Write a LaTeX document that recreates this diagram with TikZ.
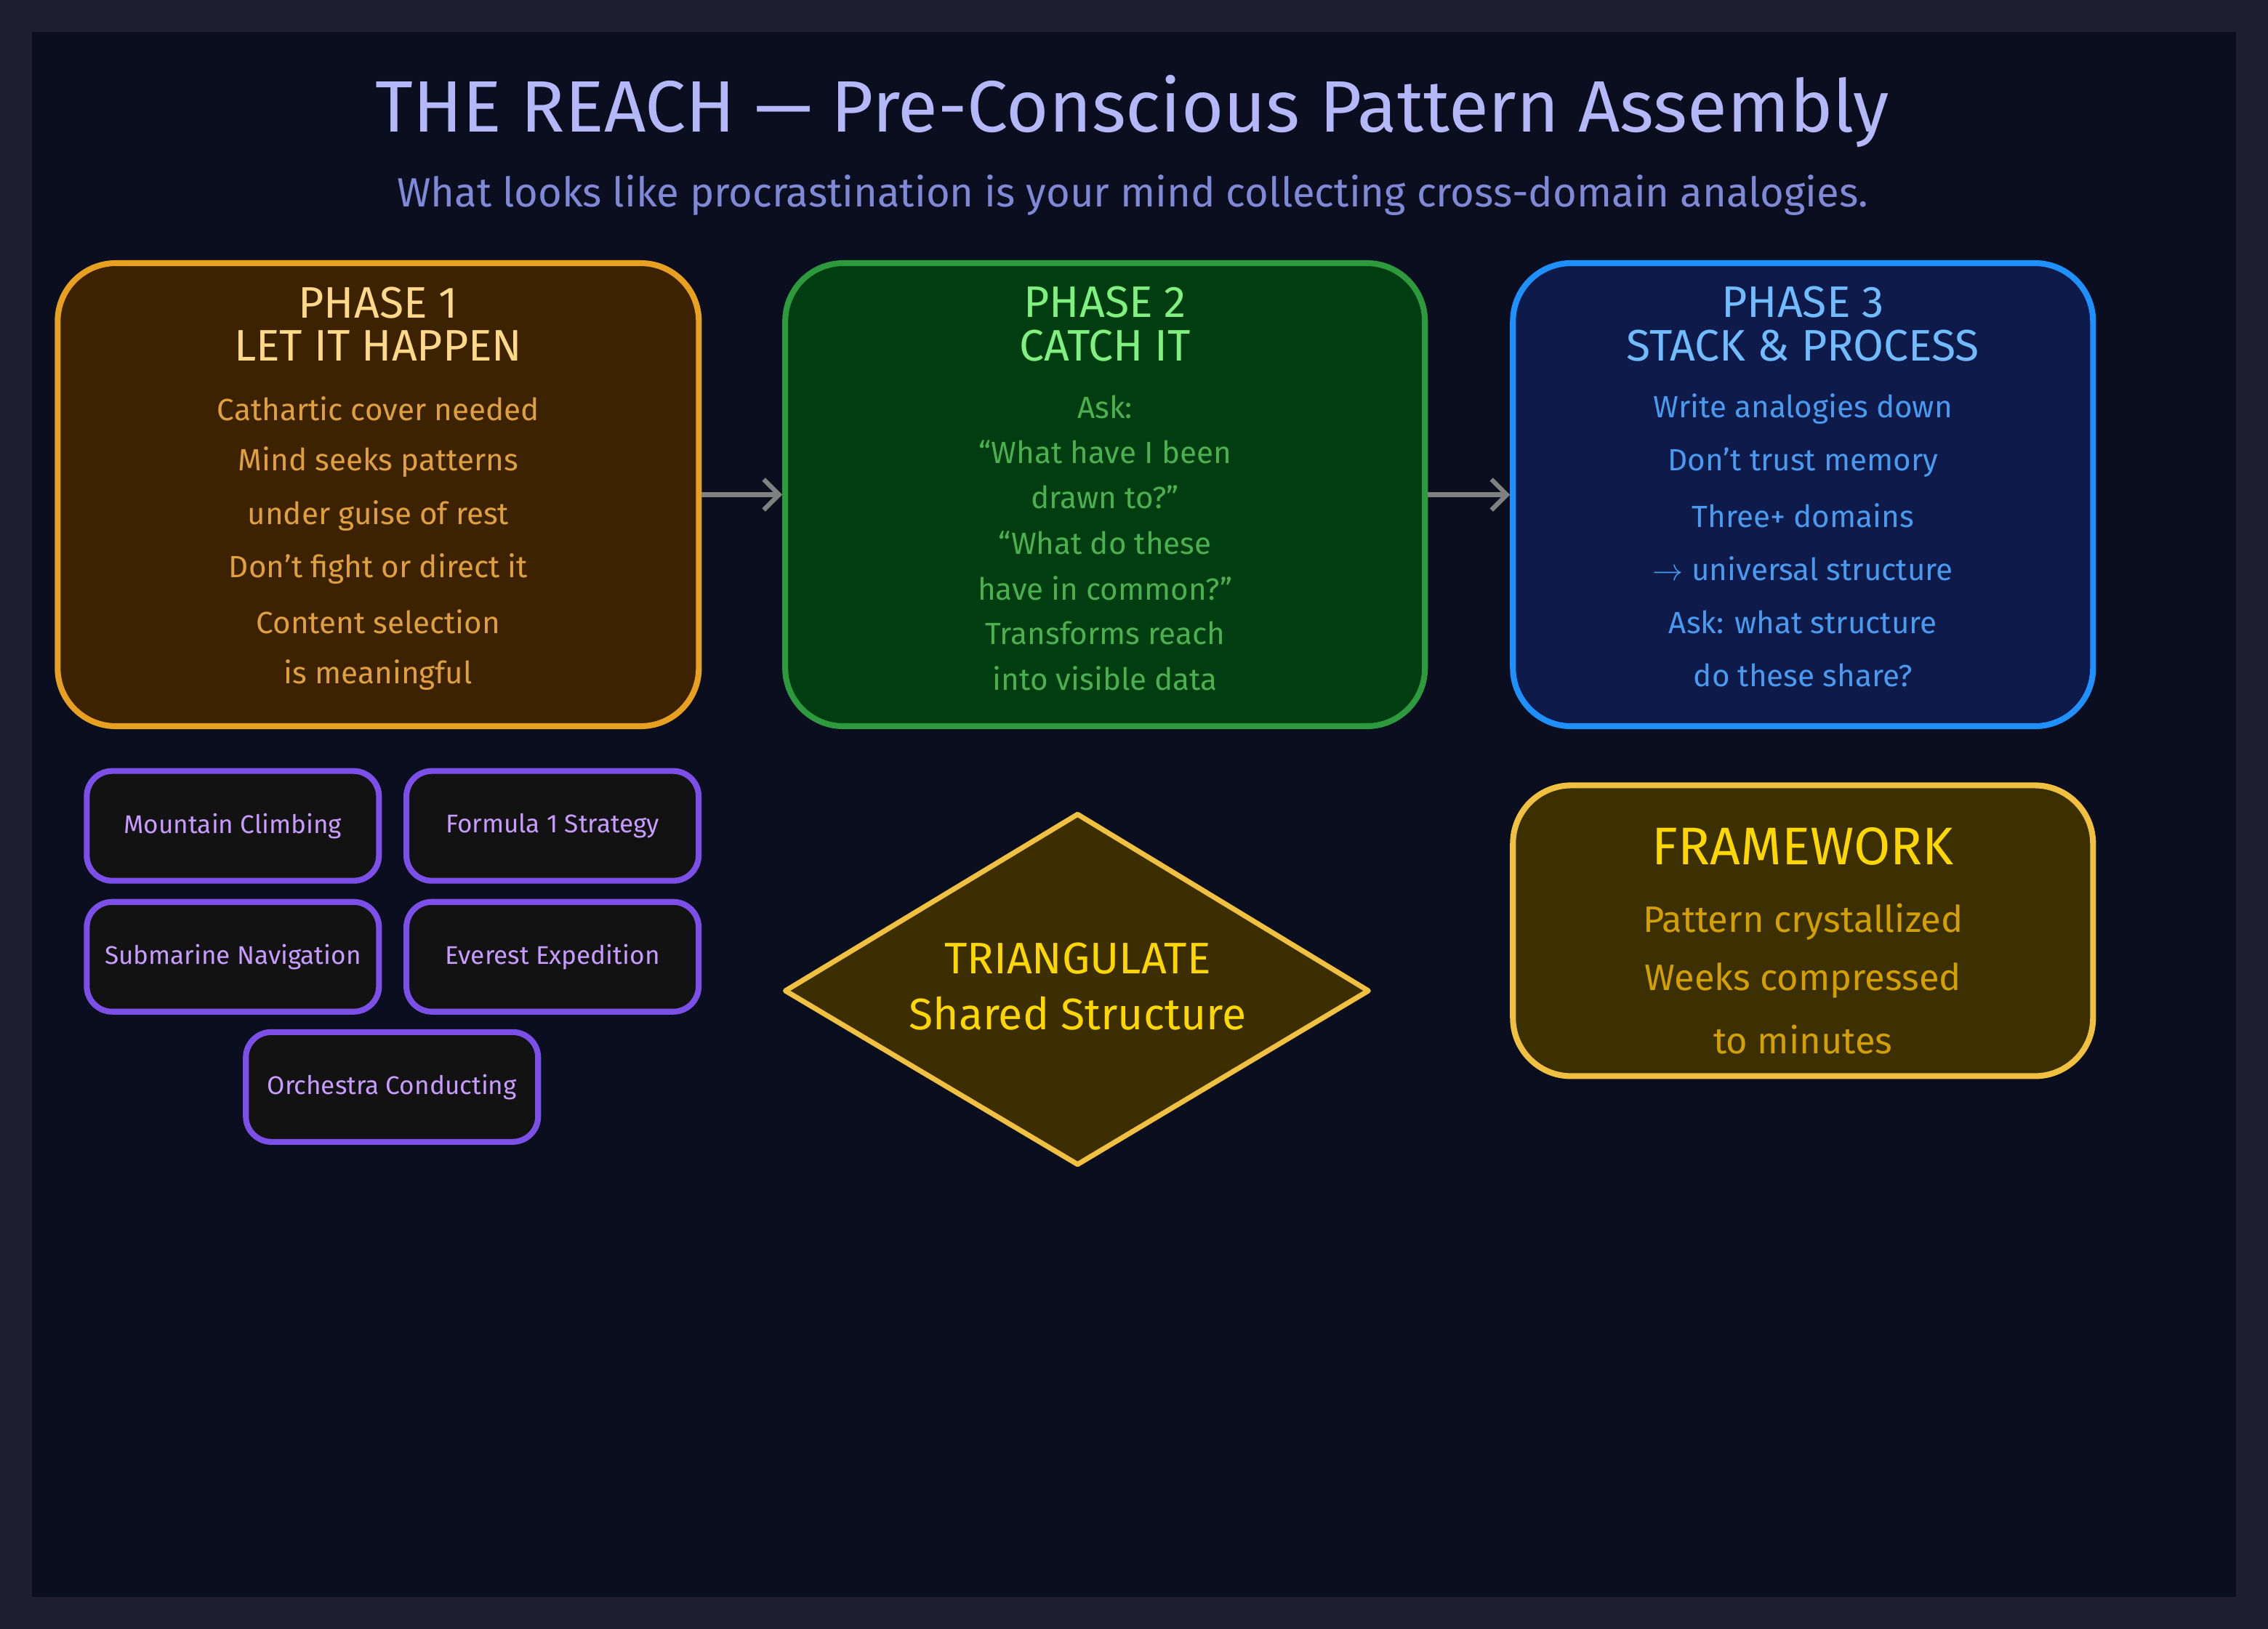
\documentclass[tikz,border=0pt]{standalone}
\usepackage{fontspec}
\setmainfont{Fira Sans}
\usetikzlibrary{arrows.meta}
\definecolor{outerbg}{HTML}{1E1E2E}
\definecolor{innerbg}{HTML}{0A0E1F}
\definecolor{titlecol}{HTML}{B4B8F8}
\definecolor{subcol}{HTML}{8088D8}
\definecolor{oneline}{HTML}{E8A020}
\definecolor{onefill}{HTML}{3D2200}
\definecolor{onehead}{HTML}{FFD98A}
\definecolor{onetext}{HTML}{E0A040}
\definecolor{twoline}{HTML}{2E9A3E}
\definecolor{twofill}{HTML}{003D10}
\definecolor{twohead}{HTML}{80F080}
\definecolor{twotext}{HTML}{4CB050}
\definecolor{threeline}{HTML}{1E90FF}
\definecolor{threefill}{HTML}{0D1A4A}
\definecolor{threehead}{HTML}{70BCFF}
\definecolor{threetext}{HTML}{4A9AF0}
\definecolor{purpline}{HTML}{7B4FE8}
\definecolor{purptext}{HTML}{C89CFF}
\definecolor{purpfill}{HTML}{121212}
\definecolor{goldline}{HTML}{F0C040}
\definecolor{goldfill}{HTML}{3D3000}
\definecolor{diafill}{HTML}{3D2E00}
\definecolor{goldhead}{HTML}{FFD700}
\definecolor{goldtext}{HTML}{D4A000}
\tikzset{
  phase/.style={draw, line width=2.3pt, rounded corners=0.8cm, inner sep=0pt},
  analogy/.style={draw=purpline, fill=purpfill, line width=2.3pt, rounded corners=0.35cm,
    minimum width=4.02cm, minimum height=1.51cm, text=purptext, font=\normalsize},
  body/.style={font=\large},
  head/.style={font=\LARGE, align=center}
}
\begin{document}
\begin{tikzpicture}[x=0.0199cm, y=-0.0199cm]

% Background
\fill[outerbg] (0,0) rectangle (1568,1126);
\fill[innerbg] (22,22) rectangle (1546,1104);

\node[text=titlecol, font=\fontsize{28.5}{34}\selectfont] (title) at (783,77) {THE REACH — Pre-Conscious Pattern Assembly};
\node[text=subcol, font=\fontsize{16}{20}\selectfont] (subtitle) at (783,135) {What looks like procrastination is your mind collecting cross-domain analogies.};

% Phase boxes
\node[phase, draw=oneline, fill=onefill, minimum width=8.82cm, minimum height=6.37cm] (one) at (261.5,342) {};
\node[phase, draw=twoline, fill=twofill, minimum width=8.80cm, minimum height=6.37cm] (two) at (764,342) {};
\node[phase, draw=threeline, fill=threefill, minimum width=7.98cm, minimum height=6.37cm] (three) at (1246.5,342) {};

\node[head, text=onehead] (onehead) at (261.5,224) {PHASE 1\\[-5pt]LET IT HAPPEN};
\foreach \t [count=\i] in {Cathartic cover needed, Mind seeks patterns, under guise of rest, Don't fight or direct it, Content selection, is meaningful}
  \node[body, text=onetext] (one\i) at (261.5,{246+36.8*\i}) {\t};

\node[head, text=twohead] (twohead) at (764,224) {PHASE 2\\[-5pt]CATCH IT};
\foreach \t [count=\i] in {Ask:, ``What have I been, drawn to?'', ``What do these, have in common?'', Transforms reach, into visible data}
  \node[body, text=twotext] (two\i) at (764,{250+31.3*\i}) {\t};

\node[head, text=threehead] (threehead) at (1246.5,224) {PHASE 3\\[-5pt]STACK \& PROCESS};
\foreach \t [count=\i] in {Write analogies down, Don't trust memory, Three+ domains, $\rightarrow$ universal structure, Ask: what structure, do these share?}
  \node[body, text=threetext] (three\i) at (1246.5,{246+36.8*\i}) {\t};

\draw[-{Straight Barb[length=6pt]}, gray, line width=1.8pt] (one) -- (two);
\draw[-{Straight Barb[length=6pt]}, gray, line width=1.8pt] (two) -- (three);

% Domains
\node[analogy] (mountain) at (161,571) {Mountain Climbing};
\node[analogy] (formula) at (382,571) {Formula 1 Strategy};
\node[analogy] (submarine) at (161,661.5) {Submarine Navigation};
\node[analogy] (everest) at (382,661.5) {Everest Expedition};
\node[analogy] (orchestra) at (271,751.5) {Orchestra Conducting};

% Triangulate
\coordinate (diaN) at (745,563);
\coordinate (diaE) at (946,685);
\coordinate (diaS) at (745,805);
\coordinate (diaW) at (543,685);
\draw[goldline, fill=diafill, line width=2pt, line join=round] (diaN) -- (diaE) -- (diaS) -- (diaW) -- cycle;
\node[text=goldhead, font=\LARGE, align=center] (tri) at (745,682) {TRIANGULATE\\[0pt]Shared Structure};

% Framework
\node[phase, draw=goldline, fill=goldfill, minimum width=7.98cm, minimum height=4.0cm] (frame) at (1246.5,643.5) {};
\node[text=goldhead, font=\huge] (framehead) at (1246.5,585) {FRAMEWORK};
\foreach \t [count=\i] in {Pattern crystallized, Weeks compressed, to minutes}
  \node[body, text=goldtext, font=\Large] (frame\i) at (1246.5,{597+40.5*\i}) {\t};

\end{tikzpicture}
\end{document}
